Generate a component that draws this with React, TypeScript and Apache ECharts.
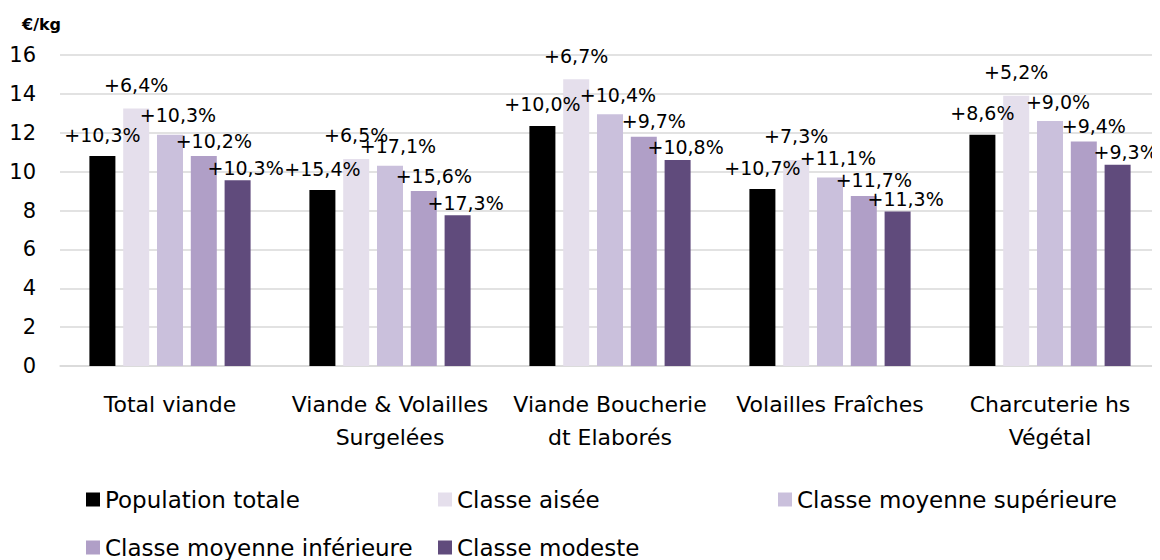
import React, { useEffect, useRef } from "react";
import * as echarts from "echarts";

const categories = [
  "Total viande",
  "Viande & Volailles\nSurgelées",
  "Viande Boucherie\ndt Elaborés",
  "Volailles Fraîches",
  "Charcuterie hs\nVégétal",
];

const seriesNames = [
  "Population totale",
  "Classe aisée",
  "Classe moyenne supérieure",
  "Classe moyenne inférieure",
  "Classe modeste",
];

const populationTotale = [10.8, 9.05, 12.35, 9.1, 11.9];
const classeAisee = [13.25, 10.65, 14.75, 10.6, 13.9];
const classeMoyenneSup = [11.9, 10.3, 12.95, 9.7, 12.6];
const classeMoyenneInf = [10.8, 9.0, 11.8, 8.75, 11.55];
const classeModeste = [9.55, 7.75, 10.6, 7.95, 10.35];

const labelsPopulation = ["+10,3%", "+15,4%", "+10,0%", "+10,7%", "+8,6%"];
const labelsAisee = ["+6,4%", "+6,5%", "+6,7%", "+7,3%", "+5,2%"];
const labelsMoySup = ["+10,3%", "+17,1%", "+10,4%", "+11,1%", "+9,0%"];
const labelsMoyInf = ["+10,2%", "+15,6%", "+9,7%", "+11,7%", "+9,4%"];
const labelsModeste = ["+10,3%", "+17,3%", "+10,8%", "+11,3%", "+9,3%"];

const yTicks = [0, 2, 4, 6, 8, 10, 12, 14, 16];

const FONT = "'DejaVu Sans', sans-serif";

export default function App() {
  const ref = useRef<HTMLDivElement>(null);
  useEffect(() => {
    if (!ref.current) return;
    const chart = echarts.init(ref.current, undefined, { renderer: "svg" });
    const values = [populationTotale, classeAisee, classeMoyenneSup, classeMoyenneInf, classeModeste];
    const labels = [labelsPopulation, labelsAisee, labelsMoySup, labelsMoyInf, labelsModeste];
    const colors = ["#000000", "#e5dfec", "#cac0dc", "#b09fc7", "#604b7c"];
    const distances = [12, 14, 10, 6, 3];
    const offsets = [0, 0, 8, 10, 8];
    const legendPos = [
      [86, 488],
      [438, 488],
      [778, 488],
      [86, 536],
      [438, 536],
    ];
    chart.setOption({
      animation: false,
      textStyle: { fontFamily: FONT },
      grid: { left: 60, right: 0, top: 55, bottom: 194, containLabel: false },
      graphic: [
        {
          type: "text",
          left: 22,
          top: 16,
          style: { text: "€/kg", font: `bold 16px ${FONT}`, fill: "#000" },
        },
      ],
      legend: seriesNames.map((n, i) => ({
        data: [n],
        left: legendPos[i][0],
        top: legendPos[i][1],
        icon: "rect",
        itemWidth: 14,
        itemHeight: 14,
        itemGap: 8,
        padding: 0,
        selectedMode: false,
        textStyle: { fontFamily: FONT, fontSize: 23, color: "#000" },
      })),
      xAxis: {
        type: "category",
        data: categories,
        axisLine: { lineStyle: { color: "#d9d9d9", width: 1.5 } },
        axisTick: { show: false },
        axisLabel: {
          fontFamily: FONT,
          fontSize: 22,
          color: "#000",
          lineHeight: 33,
          margin: 22,
          interval: 0,
        },
      },
      yAxis: {
        type: "value",
        min: yTicks[0],
        max: yTicks[yTicks.length - 1],
        interval: 2,
        axisLine: { show: false },
        axisTick: { show: false },
        splitLine: { lineStyle: { color: "#d9d9d9", width: 1.5 } },
        axisLabel: { fontFamily: FONT, fontSize: 21, color: "#000", margin: 24 },
      },
      series: seriesNames.map((n, i) => ({
        name: n,
        type: "bar",
        data: values[i],
        barWidth: 26,
        barGap: "30%",
        itemStyle: { color: colors[i] },
        label: {
          show: true,
          position: "top",
          distance: distances[i],
          offset: [offsets[i], 0],
          formatter: (p: any) => labels[i][p.dataIndex],
          fontFamily: FONT,
          fontSize: 19,
          color: "#000",
        },
      })),
    });
    return () => chart.dispose();
  }, []);
  return <div ref={ref} style={{ width: 1160, height: 560, marginLeft: -8, marginTop: -8 }} />;
}
